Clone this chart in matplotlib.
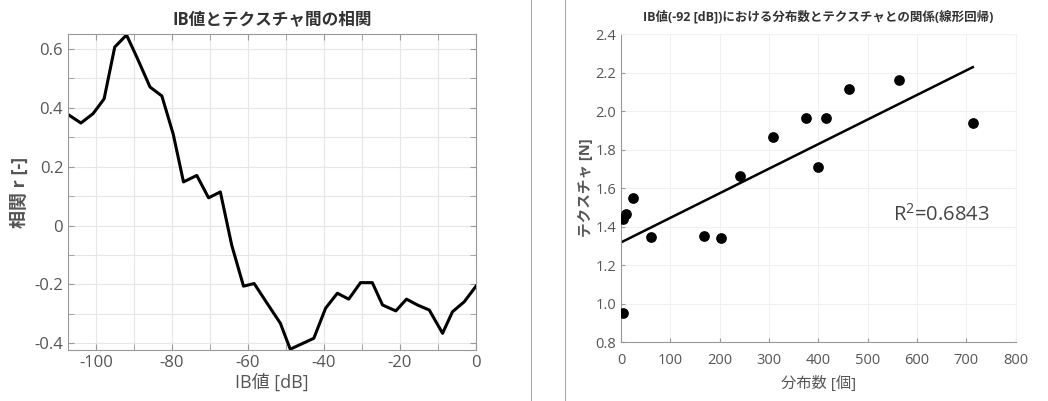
import numpy as np
import matplotlib.pyplot as plt
from matplotlib.lines import Line2D
from matplotlib.ticker import MultipleLocator

plt.rcParams['font.family'] = ['Open Sans', 'Noto Sans CJK JP', 'DejaVu Sans']

# left: correlation vs IB value
ib_db = [-107.4, -104.0, -100.8, -97.9, -95.1, -92.0, -89.3, -85.8, -82.7, -79.7,
         -77.0, -73.5, -70.4, -67.3, -64.3, -61.2, -58.4, -55.0, -51.5, -48.9,
         -42.7, -39.6, -36.5, -33.5, -30.4, -27.3, -24.6, -21.1, -18.3, -15.4,
         -12.3, -8.8, -6.2, -3.1, 0.0]
corr_r = [0.377, 0.348, 0.380, 0.430, 0.606, 0.647, 0.572, 0.470, 0.440, 0.310,
          0.148, 0.170, 0.094, 0.114, -0.067, -0.206, -0.197, -0.264, -0.332, -0.420,
          -0.383, -0.281, -0.230, -0.250, -0.194, -0.194, -0.270, -0.290, -0.250, -0.270,
          -0.287, -0.366, -0.293, -0.259, -0.206]

# right: count vs texture at -92 dB
count = [3, 10, 25, 60, 169, 203, 242, 307, 375, 400, 415, 462, 564, 713, 4]
texture = [1.44, 1.465, 1.548, 1.345, 1.349, 1.34, 1.661, 1.864, 1.963, 1.708,
           1.963, 2.116, 2.161, 1.939, 0.951]
r2_text = 'R$^{\\mathregular{2}}$=0.6843'

txt = '#555555'
spine = '#999999'

fig = plt.figure(figsize=(10.48, 4.01), dpi=100)

ax1 = fig.add_axes([0.0649, 0.127, 0.3893, 0.788])
ax1.plot(ib_db, corr_r, color='black', lw=2.2)
ax1.set_xlim(-107.4, 0)
ax1.set_ylim(-0.423, 0.65)
ax1.xaxis.set_minor_locator(MultipleLocator(10))
ax1.yaxis.set_minor_locator(MultipleLocator(0.1))
ax1.set_xticks([-100, -80, -60, -40, -20, 0])
ax1.set_xticklabels(['-100', '-80', '-60', '-40', '-20', '0'])
ax1.set_yticks([-0.4, -0.2, 0, 0.2, 0.4, 0.6])
ax1.set_yticklabels(['-0.4', '-0.2', '0', '0.2', '0.4', '0.6'])
ax1.grid(True, which='both', color='#e6e6e6', lw=0.8)
ax1.set_axisbelow(True)
ax1.tick_params(which='both', direction='in', top=True, right=True,
                color=spine, labelsize=12, labelcolor=txt, length=4)
for s in ax1.spines.values():
    s.set_color(spine)
ax1.set_title('IB値とテクスチャ間の相関', fontsize=12, fontweight='bold',
              color='#333333', pad=7)
ax1.set_xlabel('IB値 [dB]', fontsize=13, color=txt, labelpad=2)
ax1.set_ylabel('相関 r [-]', fontsize=13, color=txt, fontweight='bold')

ax2 = fig.add_axes([0.5926, 0.147, 0.3766, 0.768])
ax2.scatter(count, texture, s=45, color='black', zorder=3)
slope, intercept = np.polyfit(count, texture, 1)
xfit = np.array([0, max(count)])
ax2.plot(xfit, intercept + slope * xfit, color='black', lw=1.8)
ax2.set_xlim(0, 800)
ax2.set_ylim(0.8, 2.4)
ax2.set_xticks(np.arange(0, 801, 100))
ax2.set_yticks(np.arange(0.8, 2.41, 0.2))
ax2.set_yticklabels(['%.1f' % v for v in np.arange(0.8, 2.41, 0.2)])
ax2.grid(True, color='#f0f0f0', lw=0.8)
ax2.set_axisbelow(True)
ax2.tick_params(direction='in', color=spine, labelsize=10.5, labelcolor=txt, length=3)
ax2.tick_params(axis='x', pad=8)
ax2.spines['top'].set_color('#f2f2f2')
ax2.spines['right'].set_color('#f2f2f2')
ax2.spines['left'].set_color(spine)
ax2.spines['bottom'].set_color(spine)
ax2.set_title('IB値(-92 [dB])における分布数とテクスチャとの関係(線形回帰)',
              fontsize=9, fontweight='bold', color='#333333', pad=10)
ax2.set_xlabel('分布数 [個]', fontsize=11, color=txt, labelpad=6)
ax2.set_ylabel('テクスチャ [N]', fontsize=10.5, color=txt, fontweight='bold', labelpad=2)
ax2.text(551, 1.46, r2_text, fontsize=14.5, color='#444444', ha='left', va='center')

for xs in (531 / 1048, 565 / 1048):
    fig.add_artist(Line2D([xs, xs], [0, 1], color='#aaaaaa', lw=0.8))

fig.savefig('out.png', dpi=100)
